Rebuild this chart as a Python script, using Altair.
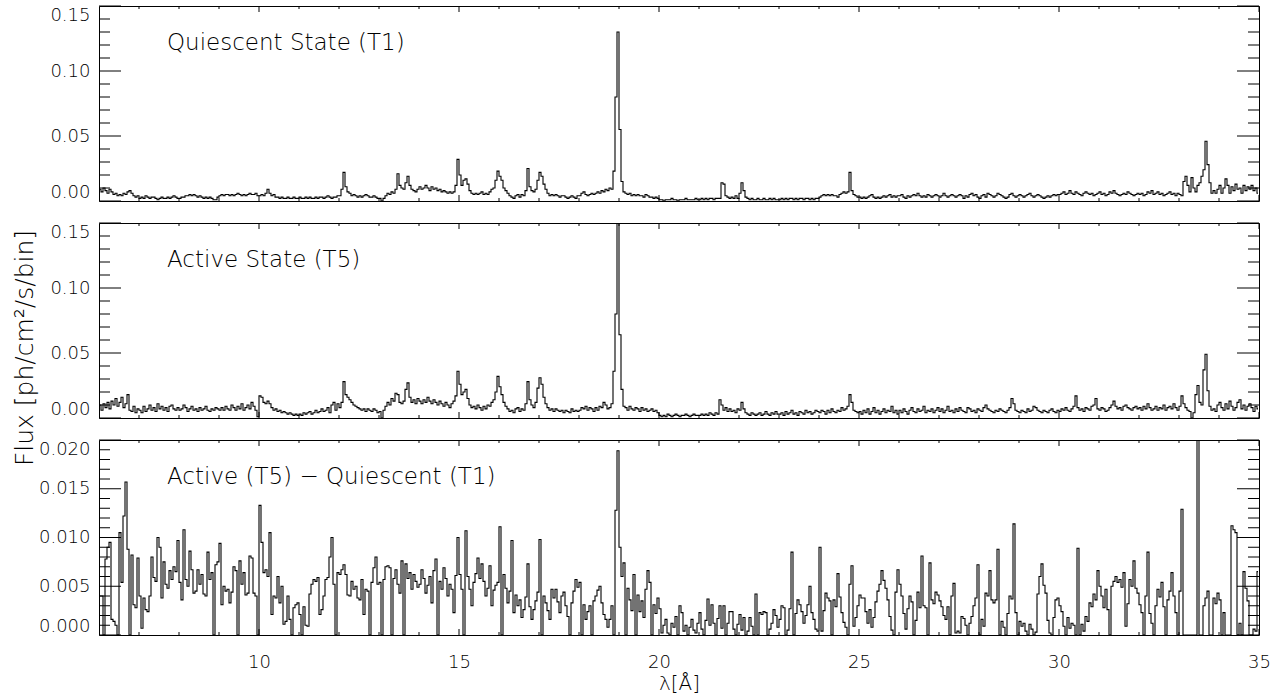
import altair as alt
import numpy as np
import pandas as pd

# Wavelength grid of the binned spectra (Angstrom)
LAMBDA_START = 6.0
BIN_WIDTH = 0.05

# Quiescent state (T1), ph/cm^2/s/bin, one row per Angstrom (20 bins)
quiescent_t1 = [
    0.009, 0.007, 0.010, 0.008, 0.006, 0.009, 0.007, 0.005, 0.006, 0.004, 0.005, 0.004, 0.006, 0.005, 0.007, 0.008, 0.006, 0.004, 0.003, 0.004,  # 6
    0.002, 0.003, 0.002, 0.004, 0.003, 0.002, 0.003, 0.003, 0.002, 0.001, 0.002, 0.003, 0.002, 0.002, 0.003, 0.002, 0.003, 0.004, 0.003, 0.002,  # 7
    0.002, 0.003, 0.003, 0.004, 0.004, 0.005, 0.004, 0.005, 0.004, 0.003, 0.004, 0.003, 0.002, 0.003, 0.002, 0.003, 0.002, 0.001, 0.001, 0.003,  # 8
    0.004, 0.005, 0.004, 0.005, 0.005, 0.004, 0.005, 0.004, 0.005, 0.006, 0.005, 0.004, 0.005, 0.004, 0.005, 0.006, 0.005, 0.005, 0.006, 0.004,  # 9
    0.004, 0.005, 0.004, 0.006, 0.009, 0.006, 0.004, 0.005, 0.003, 0.003, 0.002, 0.003, 0.002, 0.002, 0.003, 0.002, 0.002, 0.003, 0.002, 0.002,  # 10
    0.003, 0.002, 0.002, 0.003, 0.002, 0.003, 0.002, 0.002, 0.003, 0.002, 0.003, 0.003, 0.002, 0.003, 0.004, 0.003, 0.002, 0.003, 0.003, 0.004,  # 11
    0.004, 0.009, 0.022, 0.011, 0.007, 0.006, 0.004, 0.005, 0.004, 0.003, 0.004, 0.003, 0.004, 0.005, 0.004, 0.003, 0.003, 0.004, 0.003, 0.002,  # 12
    0.002, 0.000, 0.002, 0.004, 0.006, 0.005, 0.007, 0.006, 0.009, 0.021, 0.012, 0.010, 0.009, 0.014, 0.019, 0.012, 0.009, 0.008, 0.007, 0.009,  # 13
    0.011, 0.009, 0.010, 0.012, 0.010, 0.008, 0.011, 0.009, 0.010, 0.008, 0.009, 0.007, 0.008, 0.007, 0.006, 0.007, 0.006, 0.007, 0.012, 0.032,  # 14
    0.020, 0.012, 0.016, 0.017, 0.013, 0.008, 0.006, 0.005, 0.006, 0.005, 0.006, 0.007, 0.005, 0.006, 0.005, 0.007, 0.009, 0.010, 0.016, 0.023,  # 15
    0.019, 0.016, 0.010, 0.008, 0.006, 0.004, 0.003, 0.002, 0.004, 0.005, 0.003, 0.005, 0.004, 0.008, 0.025, 0.011, 0.008, 0.007, 0.009, 0.016,  # 16
    0.022, 0.019, 0.013, 0.009, 0.006, 0.004, 0.005, 0.004, 0.005, 0.004, 0.003, 0.004, 0.004, 0.003, 0.002, 0.003, 0.004, 0.003, 0.002, 0.004,  # 17
    0.004, 0.006, 0.007, 0.005, 0.004, 0.005, 0.006, 0.005, 0.006, 0.007, 0.006, 0.008, 0.007, 0.009, 0.008, 0.010, 0.009, 0.023, 0.080, 0.130,  # 18
    0.055, 0.015, 0.007, 0.006, 0.005, 0.006, 0.004, 0.005, 0.004, 0.005, 0.004, 0.004, 0.003, 0.005, 0.004, 0.003, 0.003, 0.002, 0.003, 0.002,  # 19
    0.001, 0.001, 0.000, 0.001, 0.001, 0.001, 0.002, 0.001, 0.001, 0.000, 0.001, 0.001, 0.001, 0.002, 0.001, 0.001, 0.001, 0.001, 0.002, 0.001,  # 20
    0.001, 0.002, 0.001, 0.002, 0.001, 0.002, 0.002, 0.001, 0.002, 0.002, 0.002, 0.014, 0.013, 0.004, 0.003, 0.002, 0.003, 0.002, 0.004, 0.002,  # 21
    0.006, 0.014, 0.008, 0.003, 0.002, 0.001, 0.002, 0.001, 0.001, 0.002, 0.001, 0.001, 0.002, 0.001, 0.001, 0.002, 0.001, 0.002, 0.001, 0.001,  # 22
    0.001, 0.002, 0.001, 0.002, 0.001, 0.002, 0.002, 0.001, 0.002, 0.001, 0.002, 0.002, 0.001, 0.002, 0.002, 0.001, 0.002, 0.001, 0.002, 0.002,  # 23
    0.003, 0.004, 0.005, 0.004, 0.005, 0.004, 0.005, 0.004, 0.004, 0.003, 0.005, 0.006, 0.007, 0.006, 0.007, 0.022, 0.008, 0.005, 0.004, 0.003,  # 24
    0.003, 0.002, 0.003, 0.002, 0.003, 0.004, 0.005, 0.003, 0.002, 0.003, 0.002, 0.003, 0.004, 0.003, 0.004, 0.005, 0.003, 0.004, 0.003, 0.004,  # 25
    0.004, 0.005, 0.003, 0.002, 0.004, 0.003, 0.004, 0.005, 0.004, 0.006, 0.004, 0.003, 0.004, 0.003, 0.005, 0.004, 0.003, 0.004, 0.005, 0.004,  # 26
    0.003, 0.004, 0.006, 0.004, 0.003, 0.004, 0.005, 0.004, 0.003, 0.004, 0.005, 0.004, 0.002, 0.004, 0.003, 0.005, 0.006, 0.004, 0.005, 0.003,  # 27
    0.002, 0.004, 0.005, 0.003, 0.006, 0.005, 0.004, 0.003, 0.004, 0.006, 0.005, 0.004, 0.003, 0.002, 0.003, 0.005, 0.006, 0.004, 0.003, 0.004,  # 28
    0.005, 0.004, 0.003, 0.004, 0.005, 0.006, 0.004, 0.003, 0.004, 0.005, 0.004, 0.003, 0.002, 0.003, 0.004, 0.003, 0.004, 0.005, 0.004, 0.005,  # 29
    0.005, 0.006, 0.007, 0.005, 0.006, 0.008, 0.006, 0.005, 0.007, 0.006, 0.005, 0.004, 0.006, 0.007, 0.006, 0.005, 0.006, 0.004, 0.005, 0.006,  # 30
    0.007, 0.005, 0.006, 0.004, 0.005, 0.007, 0.006, 0.008, 0.006, 0.005, 0.004, 0.005, 0.006, 0.005, 0.007, 0.006, 0.005, 0.004, 0.005, 0.006,  # 31
    0.005, 0.006, 0.004, 0.005, 0.007, 0.006, 0.008, 0.005, 0.006, 0.007, 0.005, 0.006, 0.004, 0.005, 0.006, 0.007, 0.005, 0.006, 0.004, 0.006,  # 32
    0.005, 0.004, 0.015, 0.019, 0.012, 0.007, 0.018, 0.010, 0.007, 0.012, 0.014, 0.019, 0.024, 0.046, 0.028, 0.014, 0.006, 0.008, 0.006, 0.009,  # 33
    0.012, 0.006, 0.010, 0.017, 0.012, 0.006, 0.011, 0.008, 0.013, 0.009, 0.010, 0.006, 0.012, 0.008, 0.011, 0.009, 0.012, 0.008, 0.010, 0.006,  # 34
]

# Active state (T5)
active_t5 = [
    0.010, 0.006, 0.011, 0.008, 0.012, 0.007, 0.013, 0.010, 0.015, 0.009, 0.012, 0.016, 0.008, 0.011, 0.018, 0.006, 0.005, 0.009, 0.004, 0.007,  # 6
    0.006, 0.004, 0.009, 0.005, 0.007, 0.010, 0.006, 0.008, 0.005, 0.011, 0.007, 0.009, 0.006, 0.008, 0.005, 0.009, 0.010, 0.007, 0.006, 0.008,  # 7
    0.006, 0.007, 0.010, 0.008, 0.005, 0.007, 0.009, 0.006, 0.007, 0.005, 0.008, 0.006, 0.007, 0.009, 0.006, 0.005, 0.007, 0.006, 0.008, 0.007,  # 8
    0.006, 0.008, 0.006, 0.009, 0.007, 0.006, 0.010, 0.008, 0.006, 0.009, 0.007, 0.011, 0.006, 0.008, 0.010, 0.007, 0.012, 0.009, 0.006, 0.001,  # 9
    0.017, 0.016, 0.012, 0.011, 0.013, 0.011, 0.008, 0.006, 0.007, 0.005, 0.006, 0.004, 0.005, 0.004, 0.003, 0.004, 0.003, 0.002, 0.003, 0.002,  # 10
    0.003, 0.002, 0.004, 0.003, 0.004, 0.005, 0.003, 0.004, 0.006, 0.004, 0.005, 0.007, 0.005, 0.006, 0.008, 0.004, 0.010, 0.012, 0.006, 0.011,  # 11
    0.008, 0.012, 0.028, 0.018, 0.016, 0.014, 0.012, 0.010, 0.009, 0.008, 0.007, 0.006, 0.007, 0.005, 0.007, 0.006, 0.005, 0.007, 0.006, 0.004,  # 12
    0.005, 0.000, 0.006, 0.009, 0.012, 0.010, 0.015, 0.013, 0.019, 0.018, 0.012, 0.011, 0.013, 0.022, 0.027, 0.016, 0.012, 0.014, 0.011, 0.015,  # 13
    0.013, 0.011, 0.014, 0.012, 0.016, 0.013, 0.011, 0.014, 0.012, 0.010, 0.013, 0.011, 0.009, 0.012, 0.010, 0.008, 0.011, 0.013, 0.017, 0.036,  # 14
    0.026, 0.018, 0.020, 0.022, 0.015, 0.010, 0.008, 0.009, 0.007, 0.010, 0.008, 0.006, 0.009, 0.007, 0.010, 0.009, 0.012, 0.014, 0.020, 0.032,  # 15
    0.024, 0.018, 0.012, 0.009, 0.007, 0.005, 0.006, 0.004, 0.007, 0.008, 0.005, 0.007, 0.006, 0.011, 0.028, 0.014, 0.010, 0.008, 0.012, 0.023,  # 16
    0.031, 0.026, 0.016, 0.011, 0.008, 0.006, 0.007, 0.005, 0.007, 0.006, 0.005, 0.006, 0.004, 0.006, 0.005, 0.004, 0.007, 0.005, 0.006, 0.005,  # 17
    0.006, 0.008, 0.007, 0.009, 0.006, 0.008, 0.007, 0.005, 0.008, 0.006, 0.009, 0.008, 0.012, 0.010, 0.007, 0.008, 0.011, 0.036, 0.080, 0.153,  # 18
    0.064, 0.022, 0.009, 0.008, 0.006, 0.009, 0.007, 0.006, 0.008, 0.007, 0.005, 0.008, 0.006, 0.007, 0.005, 0.006, 0.007, 0.005, 0.006, 0.004,  # 19
    0.002, 0.001, 0.002, 0.001, 0.003, 0.002, 0.001, 0.002, 0.003, 0.002, 0.001, 0.002, 0.002, 0.003, 0.002, 0.001, 0.002, 0.003, 0.002, 0.002,  # 20
    0.002, 0.003, 0.002, 0.003, 0.002, 0.004, 0.003, 0.002, 0.004, 0.003, 0.014, 0.010, 0.006, 0.008, 0.005, 0.007, 0.005, 0.006, 0.004, 0.007,  # 21
    0.006, 0.012, 0.007, 0.004, 0.003, 0.002, 0.004, 0.003, 0.002, 0.003, 0.004, 0.002, 0.003, 0.005, 0.003, 0.002, 0.004, 0.003, 0.005, 0.003,  # 22
    0.003, 0.004, 0.002, 0.005, 0.003, 0.004, 0.006, 0.003, 0.004, 0.002, 0.005, 0.004, 0.003, 0.006, 0.004, 0.005, 0.003, 0.004, 0.006, 0.005,  # 23
    0.004, 0.006, 0.005, 0.003, 0.006, 0.004, 0.007, 0.005, 0.004, 0.006, 0.005, 0.008, 0.006, 0.007, 0.009, 0.018, 0.012, 0.006, 0.005, 0.004,  # 24
    0.005, 0.003, 0.006, 0.004, 0.007, 0.003, 0.005, 0.008, 0.004, 0.006, 0.003, 0.005, 0.007, 0.004, 0.006, 0.005, 0.009, 0.004, 0.006, 0.003,  # 25
    0.006, 0.004, 0.007, 0.005, 0.003, 0.006, 0.008, 0.005, 0.004, 0.007, 0.005, 0.006, 0.009, 0.004, 0.006, 0.005, 0.007, 0.004, 0.006, 0.008,  # 26
    0.005, 0.007, 0.004, 0.006, 0.009, 0.005, 0.006, 0.004, 0.007, 0.005, 0.008, 0.006, 0.005, 0.004, 0.008, 0.007, 0.005, 0.006, 0.004, 0.007,  # 27
    0.006, 0.005, 0.008, 0.010, 0.007, 0.006, 0.005, 0.004, 0.006, 0.005, 0.007, 0.006, 0.005, 0.004, 0.006, 0.008, 0.015, 0.011, 0.006, 0.005,  # 28
    0.004, 0.006, 0.005, 0.004, 0.007, 0.005, 0.006, 0.009, 0.008, 0.006, 0.005, 0.004, 0.006, 0.005, 0.004, 0.006, 0.007, 0.005, 0.004, 0.006,  # 29
    0.005, 0.007, 0.006, 0.008, 0.006, 0.005, 0.007, 0.009, 0.017, 0.008, 0.006, 0.007, 0.005, 0.008, 0.007, 0.006, 0.009, 0.010, 0.015, 0.007,  # 30
    0.006, 0.008, 0.007, 0.005, 0.006, 0.008, 0.010, 0.013, 0.009, 0.007, 0.008, 0.006, 0.009, 0.010, 0.008, 0.007, 0.006, 0.008, 0.009, 0.007,  # 31
    0.008, 0.006, 0.009, 0.007, 0.011, 0.008, 0.006, 0.007, 0.009, 0.006, 0.008, 0.007, 0.010, 0.006, 0.008, 0.009, 0.007, 0.011, 0.008, 0.006,  # 32
    0.009, 0.017, 0.011, 0.008, 0.006, 0.005, 0.000, 0.004, 0.018, 0.025, 0.012, 0.010, 0.037, 0.049, 0.021, 0.009, 0.006, 0.007, 0.005, 0.010,  # 33
    0.012, 0.008, 0.006, 0.011, 0.007, 0.013, 0.009, 0.006, 0.008, 0.012, 0.014, 0.007, 0.010, 0.006, 0.009, 0.011, 0.008, 0.005, 0.009, 0.007,  # 34
]

# Active (T5) - Quiescent (T1), shown on its positive side
difference = [
    0.0040, 0.0040, 0.0000, 0.0078, 0.0090, 0.0095, 0.0016, 0.0014, 0.0010, 0.0000, 0.0105, 0.0054, 0.0122, 0.0157, 0.0088, 0.0000, 0.0082, 0.0031, 0.0028, 0.0079,  # 6
    0.0040, 0.0007, 0.0038, 0.0026, 0.0024, 0.0040, 0.0080, 0.0059, 0.0055, 0.0100, 0.0090, 0.0038, 0.0075, 0.0052, 0.0048, 0.0066, 0.0057, 0.0070, 0.0065, 0.0097,  # 7
    0.0054, 0.0036, 0.0108, 0.0057, 0.0050, 0.0086, 0.0067, 0.0043, 0.0045, 0.0067, 0.0052, 0.0062, 0.0042, 0.0040, 0.0085, 0.0057, 0.0064, 0.0000, 0.0072, 0.0075,  # 8
    0.0094, 0.0031, 0.0050, 0.0045, 0.0047, 0.0033, 0.0044, 0.0070, 0.0066, 0.0000, 0.0076, 0.0052, 0.0064, 0.0041, 0.0043, 0.0081, 0.0079, 0.0043, 0.0040, 0.0000,  # 9
    0.0133, 0.0095, 0.0064, 0.0067, 0.0060, 0.0105, 0.0021, 0.0040, 0.0038, 0.0060, 0.0033, 0.0050, 0.0011, 0.0014, 0.0040, 0.0016, 0.0000, 0.0028, 0.0031, 0.0033,  # 10
    0.0021, 0.0000, 0.0029, 0.0010, 0.0009, 0.0042, 0.0052, 0.0057, 0.0055, 0.0059, 0.0021, 0.0026, 0.0040, 0.0057, 0.0059, 0.0080, 0.0100, 0.0052, 0.0000, 0.0064,  # 11
    0.0062, 0.0067, 0.0072, 0.0062, 0.0041, 0.0040, 0.0055, 0.0047, 0.0050, 0.0038, 0.0036, 0.0057, 0.0021, 0.0047, 0.0045, 0.0000, 0.0054, 0.0069, 0.0080, 0.0052,  # 12
    0.0054, 0.0000, 0.0057, 0.0070, 0.0071, 0.0069, 0.0000, 0.0058, 0.0067, 0.0052, 0.0043, 0.0076, 0.0000, 0.0073, 0.0058, 0.0064, 0.0047, 0.0062, 0.0055, 0.0049,  # 13
    0.0052, 0.0067, 0.0058, 0.0043, 0.0051, 0.0060, 0.0033, 0.0066, 0.0078, 0.0000, 0.0055, 0.0047, 0.0069, 0.0058, 0.0040, 0.0052, 0.0047, 0.0023, 0.0061, 0.0100,  # 14
    0.0062, 0.0047, 0.0000, 0.0107, 0.0060, 0.0047, 0.0030, 0.0054, 0.0063, 0.0079, 0.0058, 0.0073, 0.0055, 0.0040, 0.0048, 0.0071, 0.0030, 0.0046, 0.0051, 0.0054,  # 15
    0.0111, 0.0000, 0.0062, 0.0048, 0.0033, 0.0045, 0.0097, 0.0023, 0.0041, 0.0030, 0.0036, 0.0018, 0.0026, 0.0039, 0.0073, 0.0029, 0.0016, 0.0026, 0.0035, 0.0044,  # 16
    0.0098, 0.0000, 0.0040, 0.0033, 0.0025, 0.0016, 0.0047, 0.0038, 0.0047, 0.0034, 0.0023, 0.0040, 0.0044, 0.0030, 0.0019, 0.0000, 0.0033, 0.0045, 0.0057, 0.0049,  # 17
    0.0054, 0.0000, 0.0031, 0.0016, 0.0024, 0.0030, 0.0000, 0.0035, 0.0040, 0.0046, 0.0050, 0.0033, 0.0021, 0.0016, 0.0008, 0.0016, 0.0030, 0.0000, 0.0128, 0.0189,  # 18
    0.0090, 0.0060, 0.0074, 0.0000, 0.0048, 0.0036, 0.0025, 0.0062, 0.0000, 0.0041, 0.0024, 0.0035, 0.0018, 0.0047, 0.0066, 0.0054, 0.0000, 0.0031, 0.0022, 0.0038,  # 19
    0.0027, 0.0002, 0.0010, 0.0016, 0.0002, 0.0000, 0.0012, 0.0008, 0.0019, 0.0000, 0.0030, 0.0023, 0.0004, 0.0010, 0.0000, 0.0008, 0.0016, 0.0005, 0.0002, 0.0012,  # 20
    0.0023, 0.0006, 0.0000, 0.0015, 0.0037, 0.0010, 0.0031, 0.0012, 0.0000, 0.0017, 0.0030, 0.0007, 0.0030, 0.0000, 0.0012, 0.0024, 0.0024, 0.0006, 0.0000, 0.0011,  # 21
    0.0021, 0.0005, 0.0018, 0.0000, 0.0004, 0.0018, 0.0009, 0.0000, 0.0042, 0.0000, 0.0023, 0.0021, 0.0024, 0.0023, 0.0000, 0.0006, 0.0012, 0.0026, 0.0020, 0.0008,  # 22
    0.0016, 0.0030, 0.0028, 0.0000, 0.0005, 0.0027, 0.0085, 0.0000, 0.0022, 0.0036, 0.0031, 0.0024, 0.0012, 0.0020, 0.0031, 0.0050, 0.0023, 0.0016, 0.0006, 0.0004,  # 23
    0.0090, 0.0004, 0.0025, 0.0043, 0.0038, 0.0035, 0.0000, 0.0036, 0.0029, 0.0063, 0.0039, 0.0023, 0.0013, 0.0008, 0.0000, 0.0052, 0.0071, 0.0009, 0.0018, 0.0030,  # 24
    0.0041, 0.0038, 0.0038, 0.0024, 0.0012, 0.0026, 0.0008, 0.0018, 0.0034, 0.0045, 0.0052, 0.0066, 0.0056, 0.0048, 0.0036, 0.0019, 0.0005, 0.0000, 0.0044, 0.0067,  # 25
    0.0052, 0.0040, 0.0022, 0.0006, 0.0027, 0.0040, 0.0034, 0.0000, 0.0015, 0.0044, 0.0028, 0.0081, 0.0030, 0.0028, 0.0000, 0.0074, 0.0036, 0.0032, 0.0044, 0.0041,  # 26
    0.0035, 0.0029, 0.0020, 0.0016, 0.0029, 0.0000, 0.0040, 0.0053, 0.0002, 0.0004, 0.0002, 0.0019, 0.0017, 0.0010, 0.0000, 0.0012, 0.0019, 0.0030, 0.0038, 0.0072,  # 27
    0.0000, 0.0016, 0.0009, 0.0043, 0.0040, 0.0066, 0.0036, 0.0033, 0.0036, 0.0088, 0.0000, 0.0014, 0.0008, 0.0000, 0.0022, 0.0040, 0.0037, 0.0114, 0.0023, 0.0000,  # 28
    0.0014, 0.0009, 0.0012, 0.0004, 0.0000, 0.0011, 0.0006, 0.0000, 0.0003, 0.0042, 0.0060, 0.0073, 0.0051, 0.0043, 0.0015, 0.0002, 0.0000, 0.0018, 0.0036, 0.0038,  # 29
    0.0030, 0.0024, 0.0009, 0.0000, 0.0018, 0.0007, 0.0012, 0.0010, 0.0000, 0.0089, 0.0000, 0.0011, 0.0004, 0.0019, 0.0014, 0.0033, 0.0029, 0.0042, 0.0036, 0.0066,  # 30
    0.0050, 0.0040, 0.0028, 0.0047, 0.0026, 0.0000, 0.0050, 0.0055, 0.0060, 0.0054, 0.0057, 0.0049, 0.0064, 0.0009, 0.0032, 0.0057, 0.0050, 0.0076, 0.0048, 0.0043,  # 31
    0.0031, 0.0023, 0.0000, 0.0040, 0.0085, 0.0022, 0.0012, 0.0000, 0.0030, 0.0047, 0.0039, 0.0054, 0.0029, 0.0000, 0.0036, 0.0045, 0.0064, 0.0040, 0.0023, 0.0000,  # 32
    0.0045, 0.0129, 0.0000, 0.0000, 0.0000, 0.0000, 0.0000, 0.0000, 0.0000, 0.0215, 0.0000, 0.0000, 0.0030, 0.0038, 0.0045, 0.0000, 0.0000, 0.0038, 0.0032, 0.0043,  # 33
    0.0036, 0.0000, 0.0023, 0.0000, 0.0000, 0.0000, 0.0112, 0.0108, 0.0105, 0.0000, 0.0012, 0.0000, 0.0065, 0.0048, 0.0035, 0.0000, 0.0000, 0.0006, 0.0004, 0.0065,  # 34
]

assert len(quiescent_t1) == len(active_t5) == len(difference) == 580

# Axis tick positions
x_major = [10, 15, 20, 25, 30, 35]
x_minor = [7, 8, 9, 11, 12, 13, 14, 16, 17, 18, 19, 21, 22, 23, 24, 26, 27, 28, 29, 31, 32, 33, 34]
flux_major = [0.0, 0.05, 0.10, 0.15]
flux_minor = [0.01, 0.02, 0.03, 0.04, 0.06, 0.07, 0.08, 0.09, 0.11, 0.12, 0.13, 0.14]
diff_major = [0.0, 0.005, 0.010, 0.015, 0.020]
diff_minor = [0.001, 0.002, 0.003, 0.004, 0.006, 0.007, 0.008, 0.009,
              0.011, 0.012, 0.013, 0.014, 0.016, 0.017, 0.018, 0.019]

panel_labels = ["Quiescent State (T1)", "Active State (T5)", "Active (T5) \u2212 Quiescent (T1)"]

wave = LAMBDA_START + BIN_WIDTH * (np.arange(len(quiescent_t1)) + 0.5)

W, H = 1160, 195
FONT = "DejaVu Sans"
WEIGHT = 200
X_DOMAIN = [6, 35]


def panel(values, y_max, y_major, y_minor, label, fmt, show_x, y_title):
    xs = alt.Scale(domain=X_DOMAIN, nice=False, zero=False)
    ys = alt.Scale(domain=[0, y_max], nice=False, zero=False)
    df = pd.DataFrame({"wave": wave, "flux": values})

    if show_x:
        x_axis = alt.Axis(values=x_major, format="d", domain=False, ticks=False, tickSize=0,
                          grid=False, labelFlush=False, labelFontSize=18, labelPadding=18,
                          labelFont=FONT, labelFontWeight=WEIGHT, labelColor="black",
                          title="\u03bb[\u00c5]", titleFont=FONT, titleFontSize=20,
                          titleFontWeight=WEIGHT, titleColor="black", titlePadding=2)
    else:
        x_axis = None

    y_kwargs = dict(values=y_major, format=fmt, domain=False, ticks=False, tickSize=0,
                    grid=False, labelFlush=True, labelFontSize=18, labelPadding=9,
                    labelFont=FONT, labelFontWeight=WEIGHT, labelColor="black",
                    minExtent=60, maxExtent=60)
    if y_title:
        y_axis = alt.Axis(title=y_title, titleFont=FONT, titleFontSize=25,
                          titleFontWeight=WEIGHT, titleColor="black",
                          titleX=-62, titleY=124.5, titleBaseline="bottom", **y_kwargs)
    else:
        y_axis = alt.Axis(title=None, **y_kwargs)

    line = alt.Chart(df).mark_line(
        interpolate="step", color="black", strokeWidth=1.1, clip=True
    ).encode(
        x=alt.X("wave:Q", scale=xs, axis=x_axis),
        y=alt.Y("flux:Q", scale=ys, axis=y_axis),
    )

    # inward tick marks on all four sides, sharing the panel's axes
    def yticks(vals, length):
        base = alt.Chart(pd.DataFrame({"flux": vals})).mark_rule(color="black", strokeWidth=1)
        yenc = alt.Y("flux:Q", scale=ys, axis=y_axis)
        return [
            base.encode(y=yenc, x=alt.value(0), x2=alt.value(length)),
            base.encode(y=yenc, x=alt.value(W), x2=alt.value(W - length)),
        ]

    def xticks(vals, length):
        base = alt.Chart(pd.DataFrame({"wave": vals})).mark_rule(color="black", strokeWidth=1)
        xenc = alt.X("wave:Q", scale=xs, axis=x_axis)
        return [
            base.encode(x=xenc, y=alt.value(0), y2=alt.value(length)),
            base.encode(x=xenc, y=alt.value(H), y2=alt.value(H - length)),
        ]

    text = alt.Chart(pd.DataFrame({"label": [label]})).mark_text(
        align="left", baseline="middle", font=FONT, fontSize=23, fontWeight=WEIGHT, color="black"
    ).encode(text="label:N", x=alt.value(68), y=alt.value(37))

    layers = [line] + yticks(y_major, 22) + yticks(y_minor, 11) + xticks(x_major, 6) + xticks(x_minor, 3) + [text]
    return alt.layer(*layers).properties(width=W, height=H)


p1 = panel(quiescent_t1, 0.15, flux_major, flux_minor, panel_labels[0], ".2f", False, None)
p2 = panel(active_t5, 0.15, flux_major, flux_minor, panel_labels[1], ".2f", False,
           "Flux  [ph/cm\u00b2/s/bin]")
p3 = panel(difference, 0.020, diff_major, diff_minor, panel_labels[2], ".3f", True, None)

chart = alt.vconcat(p1, p2, p3, spacing=22, bounds="flush").configure_view(
    stroke="black", strokeWidth=1
).properties(
    padding={"left": 11, "top": 5, "right": 5, "bottom": 2}, background="white"
)

chart.save("out.html", embed_options={"renderer": "svg", "actions": False})
